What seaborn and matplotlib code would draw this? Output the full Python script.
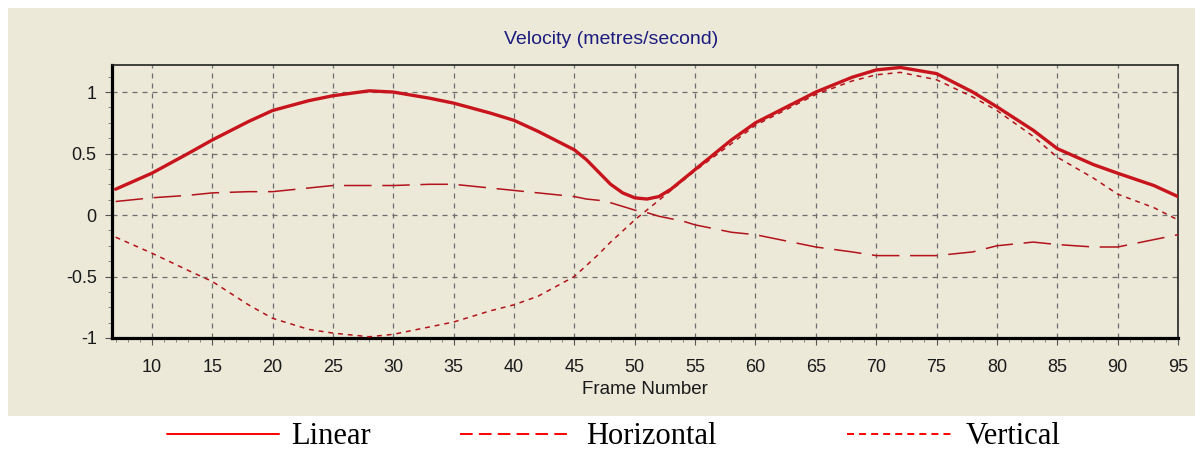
import numpy as np
import pandas as pd
import matplotlib
matplotlib.use("Agg")
import matplotlib.pyplot as plt
import seaborn as sns
from matplotlib.lines import Line2D
from matplotlib.patches import Rectangle
from matplotlib.ticker import MultipleLocator, AutoMinorLocator

# ---- data ----
frames = [7, 10, 13, 15, 18, 20, 23, 25, 28, 30, 33, 35, 38, 40, 42, 45, 46,
          47, 48, 49, 50, 51, 52, 53, 54, 55, 58, 60, 63, 65, 68, 70, 72, 75,
          78, 80, 83, 85, 88, 90, 93, 95]
linear = [0.21, 0.34, 0.50, 0.61, 0.76, 0.85, 0.93, 0.97, 1.01, 1.00, 0.95,
          0.91, 0.83, 0.77, 0.68, 0.53, 0.45, 0.35, 0.25, 0.18, 0.14, 0.13,
          0.15, 0.21, 0.29, 0.37, 0.61, 0.75, 0.90, 1.00, 1.12, 1.18, 1.20,
          1.15, 1.00, 0.88, 0.69, 0.54, 0.41, 0.34, 0.24, 0.15]
horizontal = [0.11, 0.14, 0.16, 0.18, 0.19, 0.19, 0.22, 0.24, 0.24, 0.24,
              0.25, 0.25, 0.22, 0.20, 0.18, 0.15, 0.13, 0.12, 0.10, 0.07,
              0.04, 0.02, -0.01, -0.03, -0.05, -0.08, -0.14, -0.16, -0.22,
              -0.26, -0.30, -0.33, -0.33, -0.33, -0.30, -0.25, -0.22, -0.24,
              -0.26, -0.26, -0.20, -0.16]
vertical = [-0.18, -0.31, -0.45, -0.54, -0.73, -0.84, -0.93, -0.96, -0.99,
            -0.97, -0.91, -0.87, -0.78, -0.73, -0.66, -0.50, -0.41, -0.32,
            -0.22, -0.13, -0.04, 0.04, 0.12, 0.20, 0.28, 0.36, 0.58, 0.73,
            0.88, 0.98, 1.09, 1.14, 1.16, 1.10, 0.96, 0.85, 0.64, 0.47, 0.30,
            0.17, 0.06, -0.04]
series_names = ["Linear", "Horizontal", "Vertical"]
title = "Velocity (metres/second)"
xlabel = "Frame Number"
xticks = list(range(10, 100, 5))
yticks = [-1, -0.5, 0, 0.5, 1]
ytick_labels = ["-1", "-0.5", "0", "0.5", "1"]

df = pd.DataFrame({"frame": frames, "Linear": linear,
                   "Horizontal": horizontal, "Vertical": vertical})

sns.set_theme(style="ticks")
plt.rcParams["font.family"] = ["Liberation Sans", "DejaVu Sans"]

PANEL = "#ECE9D8"
fig = plt.figure(figsize=(12, 4.5), dpi=100, facecolor="white")
fig.add_artist(Rectangle((8 / 1200, 1 - 416 / 450), 1187 / 1200, 408 / 450,
                         transform=fig.transFigure, facecolor=PANEL,
                         edgecolor="none", zorder=0))
ax = fig.add_axes([112 / 1200, 1 - 338 / 450, 1066 / 1200, 273 / 450])
ax.set_facecolor(PANEL)

dark = "#B3121A"
sns.lineplot(data=df, x="frame", y="Linear", ax=ax, color="#C8141C",
             linewidth=2.4, zorder=5)
l2 = sns.lineplot(data=df, x="frame", y="Horizontal", ax=ax, color=dark,
                  linewidth=1.1, zorder=4).lines[-1]
l2.set_dashes((18, 7))
l3 = sns.lineplot(data=df, x="frame", y="Vertical", ax=ax, color=dark,
                  linewidth=1.1, zorder=4).lines[-1]
l3.set_dashes((3.2, 3.2))

ax.set_xlim(6.7, 95)
ax.set_ylim(-1, 1.22)
ax.set_xticks(xticks)
ax.set_xticklabels([str(t) for t in xticks])
ax.set_yticks(yticks)
ax.set_yticklabels(ytick_labels)
ax.xaxis.set_minor_locator(MultipleLocator(1))
ax.yaxis.set_minor_locator(AutoMinorLocator(4))
ax.grid(True, which="major", color="#6e6e6e", linestyle=(0, (4, 4)),
        linewidth=0.9)
ax.tick_params(axis="x", which="major", pad=10)
ax.tick_params(axis="y", which="major", pad=6)
ax.tick_params(axis="both", which="major", direction="out", length=5,
               width=0.8, color="#555555", labelsize=13, labelcolor="#1a1a1a")
ax.tick_params(axis="both", which="minor", direction="out", length=3,
               width=0.6, color="#777777")
for side in ["left", "bottom"]:
    ax.spines[side].set_linewidth(2.3)
    ax.spines[side].set_color("black")
for side in ["top", "right"]:
    ax.spines[side].set_linewidth(1.2)
    ax.spines[side].set_color("#222222")
    ax.spines[side].set_visible(True)
ax.set_ylabel("")
ax.set_xlabel(xlabel, fontsize=13.5, color="#1a1a1a", labelpad=4)

fig.text(611 / 1200, 1 - 40 / 450, title, ha="center", va="center",
         fontsize=14, color="#1C1C80")

# ---- legend (below the panel) ----
handles = [
    Line2D([], [], color="#FF0000", linewidth=1.4, linestyle="-"),
    Line2D([], [], color="#FF0000", linewidth=1.4, linestyle=(0, (6.5, 3.2))),
    Line2D([], [], color="#FF0000", linewidth=1.4, linestyle=(0, (3.6, 2.6))),
]
starts = [167, 460, 847]
lengths = [3.65, 3.7, 3.45]
for h, name, x0, hl in zip(handles, series_names, starts, lengths):
    fig.legend([h], [name], loc="center left",
               bbox_to_anchor=(x0 / 1200, 1 - 437 / 450), frameon=False,
               borderpad=0, borderaxespad=0, handlelength=hl,
               handletextpad=0.42, labelcolor="black",
               prop={"family": "Liberation Serif", "size": 22})

fig.savefig("out.png", dpi=100, facecolor="white")
